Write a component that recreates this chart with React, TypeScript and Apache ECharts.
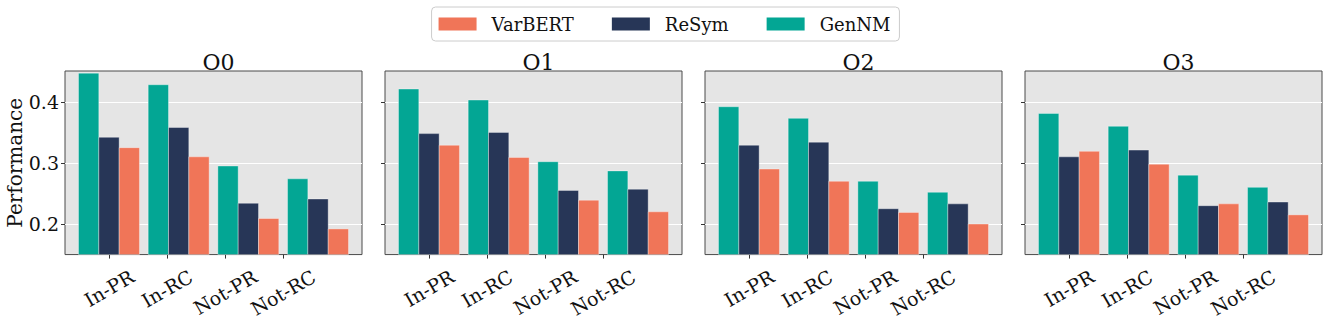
import React, { useEffect, useRef } from "react";
import * as echarts from "echarts";

const CATEGORIES = ["In-PR", "In-RC", "Not-PR", "Not-RC"];
const PANELS = ["O0", "O1", "O2", "O3"];
const METHODS = ["VarBERT", "ReSym", "GenNM"];
const Y_TICKS = [0.2, 0.3, 0.4];
const X_TICKS = [0, 1, 2, 3];

// values per panel (O0..O3), per category
const VARBERT = [
  [0.325, 0.310, 0.209, 0.192],
  [0.329, 0.309, 0.239, 0.220],
  [0.290, 0.270, 0.219, 0.200],
  [0.319, 0.298, 0.233, 0.215],
];
const RESYM = [
  [0.342, 0.358, 0.234, 0.241],
  [0.348, 0.350, 0.255, 0.257],
  [0.329, 0.334, 0.225, 0.233],
  [0.310, 0.321, 0.230, 0.236],
];
const GENNM = [
  [0.447, 0.428, 0.295, 0.274],
  [0.421, 0.403, 0.302, 0.287],
  [0.392, 0.373, 0.270, 0.252],
  [0.381, 0.360, 0.280, 0.260],
];

const COLORS: Record<string, string> = {
  VarBERT: "#f07558",
  ReSym: "#273657",
  GenNM: "#03a694",
};
const OFFSETS: Record<string, number> = { VarBERT: 0.35, ReSym: 0, GenNM: -0.35 };
const DATA: Record<string, number[][]> = { VarBERT: VARBERT, ReSym: RESYM, GenNM: GENNM };

const GROUP_SPACING = 1.2;
const BAR_W = 0.35;
const Y_MIN = 0.15;
const Y_MAX = 0.4505;
const X_MIN = -0.7575;
const X_MAX = 4.3575;

const FONT = "DejaVu Serif";
const XLABEL_SIZE = 19;

export default function App() {
  const ref = useRef<HTMLDivElement>(null);
  useEffect(() => {
    if (!ref.current) return;
    const chart = echarts.init(ref.current, undefined, { renderer: "svg" });
    const lefts = [65, 385, 705, 1025];
    const W = 297;
    const TOP = 71;
    const H = 184;

    // matplotlib-like rotated labels: bounding box top fixed, centred on tick
    const cv = document.createElement("canvas").getContext("2d");
    if (cv) cv.font = `${XLABEL_SIZE}px "${FONT}"`;
    const widths = CATEGORIES.map((c) => (cv ? cv.measureText(c).width : c.length * 10));
    const hBox = XLABEL_SIZE;
    const halfH = widths.map((w) => (0.5 * w + 0.866 * hBox) / 2);
    const minHalf = Math.min(...halfH);
    const TOP_PAD = 12;
    const MARGIN = TOP_PAD + minHalf;
    const rich: Record<string, any> = {};
    CATEGORIES.forEach((c, i) => {
      const D = halfH[i] - minHalf;
      rich["c" + i] = {
        fontFamily: FONT,
        fontSize: XLABEL_SIZE,
        color: "#111",
        padding: [1.732 * D, D, 0, 0],
      };
    });

    const grids = lefts.map((l) => ({
      left: l,
      top: TOP,
      width: W,
      height: H,
      show: true,
      backgroundColor: "#e5e5e5",
      borderColor: "#4a4a4a",
      borderWidth: 1,
      containLabel: false,
    }));

    const xAxes = PANELS.map((_, p) => ({
      type: "value",
      gridIndex: p,
      min: X_MIN,
      max: X_MAX,
      axisLine: { show: false, onZero: false },
      splitLine: { show: false },
      axisTick: {
        show: true,
        length: 4,
        customValues: X_TICKS,
        lineStyle: { color: "#333" },
      },
      axisLabel: {
        show: true,
        customValues: X_TICKS,
        formatter: (v: number) => {
          const i = Math.round(v);
          return CATEGORIES[i] ? `{c${i}|${CATEGORIES[i]}}` : "";
        },
        rich,
        rotate: 30,
        align: "center",
        verticalAlign: "middle",
        margin: MARGIN,
        fontFamily: FONT,
        fontSize: XLABEL_SIZE,
        color: "#111",
      },
    }));

    const yAxes = PANELS.map((_, p) => ({
      type: "value",
      gridIndex: p,
      min: Y_MIN,
      max: Y_MAX,
      name: p === 0 ? "Performance" : "",
      nameLocation: "middle",
      nameGap: 40,
      nameTextStyle: { fontFamily: FONT, fontSize: 20, color: "#111" },
      axisLine: { show: false, onZero: false },
      axisTick: {
        show: true,
        length: 4,
        customValues: Y_TICKS,
        lineStyle: { color: "#333" },
      },
      axisLabel: {
        show: p === 0,
        customValues: Y_TICKS,
        formatter: (v: number) => v.toFixed(1),
        margin: 6,
        fontFamily: FONT,
        fontSize: 19,
        color: "#111",
      },
      splitLine: { show: true, lineStyle: { color: "#ffffff", width: 1 } },
    }));

    const series: any[] = [];
    PANELS.forEach((_, p) => {
      ["GenNM", "ReSym", "VarBERT"].forEach((m) => {
        const vals = DATA[m][p];
        const off = OFFSETS[m];
        series.push({
          type: "custom",
          name: m,
          xAxisIndex: p,
          yAxisIndex: p,
          itemStyle: { color: COLORS[m] },
          encode: { x: 0, y: 1 },
          data: vals.map((v, i) => [i * GROUP_SPACING, v]),
          renderItem: (params: any, api: any) => {
            const x = api.value(0) + off;
            const y = api.value(1);
            const a = api.coord([x - BAR_W / 2, y]);
            const b = api.coord([x + BAR_W / 2, Y_MIN]);
            return {
              type: "rect",
              shape: { x: a[0], y: a[1], width: b[0] - a[0], height: b[1] - a[1] },
              style: {
                fill: COLORS[m],
                stroke: "rgba(255,255,255,0.45)",
                lineWidth: 0.8,
              },
            };
          },
        });
      });
    });

    const option: any = {
      animation: false,
      backgroundColor: "#ffffff",
      title: PANELS.map((t, p) => ({
        text: t,
        left: lefts[p] + W / 2,
        top: 46,
        textAlign: "center",
        textStyle: { fontFamily: FONT, fontSize: 22, fontWeight: "normal", color: "#111" },
      })),
      legend: {
        data: METHODS,
        left: "center",
        top: 7,
        orient: "horizontal",
        icon: "rect",
        itemWidth: 38,
        itemHeight: 13,
        itemGap: 38,
        padding: [8, 9, 8, 7],
        borderColor: "#cccccc",
        borderWidth: 1,
        borderRadius: 4,
        backgroundColor: "#ffffff",
        textStyle: {
          fontFamily: FONT,
          fontSize: 18,
          color: "#111",
          padding: [0, 0, 0, 10],
        },
      },
      grid: grids,
      xAxis: xAxes,
      yAxis: yAxes,
      series,
    };
    chart.setOption(option);
    return () => chart.dispose();
  }, []);
  return (
    <div
      ref={ref}
      style={{ position: "fixed", left: 0, top: 0, width: 1329, height: 320 }}
    />
  );
}
